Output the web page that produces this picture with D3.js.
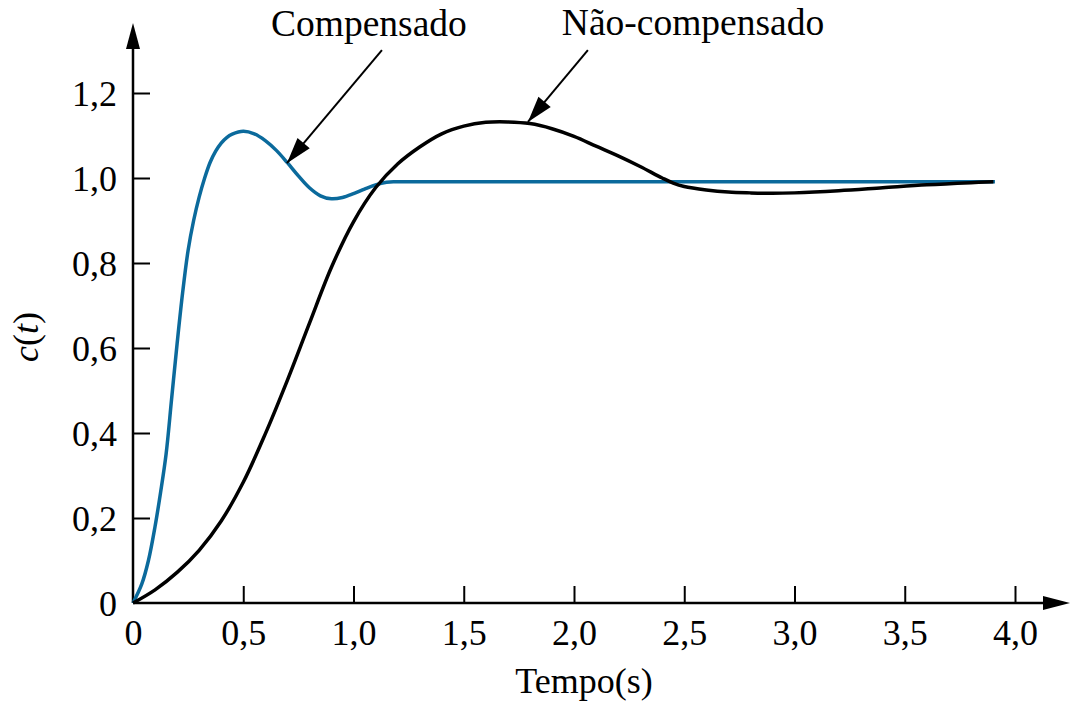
<!DOCTYPE html>
<html>
<head>
<meta charset="utf-8">
<script src="https://cdn.jsdelivr.net/npm/d3@7"></script>
<style>
    body { margin: 0; background: #fff; }
    svg text { font-family: 'Liberation Serif', 'Times New Roman', Times, serif; fill: #000; }
</style>
</head>
<body>
<div id="chart" style="width:1074px;height:702px;"></div>
<script>
// values (time in s, c(t))
const compT = [0, 0.04, 0.07, 0.1, 0.125, 0.15, 0.175, 0.2, 0.225, 0.25, 0.275, 0.3, 0.325, 0.35, 0.375, 0.4, 0.425,
    0.45, 0.5, 0.55, 0.6, 0.65, 0.7, 0.75, 0.8, 0.85, 0.9, 0.95, 1.0, 1.05, 1.1, 1.15, 1.2, 2.0, 3.0, 3.909];
const compC = [0, 0.045, 0.1, 0.18, 0.26, 0.35, 0.48, 0.61, 0.73, 0.83, 0.9, 0.955, 1.0, 1.037, 1.063, 1.082, 1.095,
    1.103, 1.11, 1.104, 1.088, 1.065, 1.036, 1.005, 0.977, 0.958, 0.951, 0.954, 0.963, 0.974, 0.984, 0.99, 0.991,
    0.991, 0.991, 0.991];

const uncompT = [0, 0.1, 0.2, 0.3, 0.4, 0.5, 0.6, 0.7, 0.8, 0.9, 1.0, 1.1, 1.2, 1.3, 1.4, 1.5, 1.6, 1.7, 1.8, 1.9,
    2.0, 2.1, 2.2, 2.3, 2.4, 2.45, 2.5, 2.6, 2.7, 2.8, 2.9, 3.0, 3.2, 3.4, 3.6, 3.8, 3.902];
const uncompC = [0, 0.031, 0.072, 0.124, 0.193, 0.284, 0.398, 0.524, 0.658, 0.79, 0.897, 0.977, 1.033, 1.073, 1.104,
    1.122, 1.131, 1.132, 1.128, 1.116, 1.098, 1.075, 1.052, 1.027, 1.0, 0.988, 0.98, 0.972, 0.967, 0.965, 0.964, 0.965,
    0.97, 0.977, 0.984, 0.989, 0.991];

const xTicks = [0, 0.5, 1.0, 1.5, 2.0, 2.5, 3.0, 3.5, 4.0];
const xTickLabels = ["0", "0,5", "1,0", "1,5", "2,0", "2,5", "3,0", "3,5", "4,0"];
const yTicks = [0, 0.2, 0.4, 0.6, 0.8, 1.0, 1.2];
const yTickLabels = ["0", "0,2", "0,4", "0,6", "0,8", "1,0", "1,2"];

// annotations: label position and arrow (from -> tip) in data units
const notes = [
    { label: "Compensado", lx: 1.07, ly: 1.334, fromT: 1.129, fromC: 1.301, tipT: 0.698, tipC: 1.035 },
    { label: "Não-compensado", lx: 2.54, ly: 1.336, fromT: 2.063, fromC: 1.301, tipT: 1.791, tipC: 1.132 }
];

const width = 1074;
const height = 702;
const margin = { top: 23, left: 133, right: 4, bottom: 99 };
const fontFamily = "'Liberation Serif', 'Times New Roman', Times, serif";

const svg = d3.select("#chart")
    .append("svg")
    .attr("width", width)
    .attr("height", height)
    .attr("font-family", fontFamily);

const xScale = d3.scaleLinear()
    .domain([0, 4])
    .range([margin.left, 1015]);

const yScale = d3.scaleLinear()
    .domain([0, 1])
    .range([height - margin.bottom, 178]);

// filled arrow head pointing from (x0,y0) towards (x1,y1)
function arrowHead(x0, y0, x1, y1, len, half) {
    const a = Math.atan2(y1 - y0, x1 - x0);
    const bx = x1 - len * Math.cos(a), by = y1 - len * Math.sin(a);
    const px = -Math.sin(a) * half, py = Math.cos(a) * half;
    return `M${x1},${y1}L${bx + px},${by + py}L${bx - px},${by - py}Z`;
}

// axes with arrows
const x0 = xScale(0), y0 = yScale(0);
const xEnd = width - margin.right, yEnd = margin.top;

svg.append("line")
    .attr("x1", x0).attr("y1", y0).attr("x2", xEnd - 20).attr("y2", y0)
    .attr("stroke", "#000").attr("stroke-width", 2.5);
svg.append("path")
    .attr("d", arrowHead(x0, y0, xEnd, y0, 27, 7))
    .attr("fill", "#000");

svg.append("line")
    .attr("x1", x0).attr("y1", y0).attr("x2", x0).attr("y2", yEnd + 20)
    .attr("stroke", "#000").attr("stroke-width", 2.5);
svg.append("path")
    .attr("d", arrowHead(x0, y0, x0, yEnd, 26, 7))
    .attr("fill", "#000");

const xAxis = svg.append("g")
    .attr("transform", `translate(0,${y0})`)
    .call(d3.axisBottom(xScale)
        .tickValues(xTicks)
        .tickFormat((d, i) => xTickLabels[i])
        .tickSizeInner(-17)
        .tickSizeOuter(0)
        .tickPadding(16));

const yAxis = svg.append("g")
    .attr("transform", `translate(${x0},0)`)
    .call(d3.axisLeft(yScale)
        .tickValues(yTicks)
        .tickFormat((d, i) => yTickLabels[i])
        .tickSizeInner(-17)
        .tickSizeOuter(0)
        .tickPadding(16));

[xAxis, yAxis].forEach(g => {
    g.attr("font-family", fontFamily).attr("font-size", 36);
    g.select(".domain").remove();
    g.selectAll(".tick line").attr("stroke", "#000").attr("stroke-width", 2);
    g.selectAll(".tick text").attr("fill", "#000");
});
// the tick at 0 sits on the other axis
xAxis.selectAll(".tick").filter(d => d === 0).select("line").remove();
yAxis.selectAll(".tick").filter(d => d === 0).select("line").remove();
yAxis.selectAll(".tick text").attr("dy", "0.36em");

// curves
const line = d3.line()
    .x(d => xScale(d[0]))
    .y(d => yScale(d[1]))
    .curve(d3.curveCatmullRom.alpha(0.5));

svg.append("path")
    .datum(d3.zip(compT, compC))
    .attr("d", line)
    .attr("fill", "none")
    .attr("stroke", "#0b6a9c")
    .attr("stroke-width", 3.5);

svg.append("path")
    .datum(d3.zip(uncompT, uncompC))
    .attr("d", line)
    .attr("fill", "none")
    .attr("stroke", "#000")
    .attr("stroke-width", 3.5);

// annotations
notes.forEach(n => {
    const fx = xScale(n.fromT), fy = yScale(n.fromC);
    const tx = xScale(n.tipT), ty = yScale(n.tipC);
    svg.append("line")
        .attr("x1", fx).attr("y1", fy).attr("x2", tx).attr("y2", ty)
        .attr("stroke", "#000").attr("stroke-width", 2);
    svg.append("path")
        .attr("d", arrowHead(fx, fy, tx, ty, 26, 8))
        .attr("fill", "#000");
    svg.append("text")
        .attr("x", xScale(n.lx))
        .attr("y", yScale(n.ly))
        .attr("text-anchor", "middle")
        .attr("font-size", 37.5)
        .text(n.label);
});

// axis labels
svg.append("text")
    .attr("x", 584)
    .attr("y", 693)
    .attr("text-anchor", "middle")
    .attr("font-size", 36)
    .text("Tempo(s)");

const yLabel = svg.append("text")
    .attr("transform", "translate(38,337) rotate(-90)")
    .attr("text-anchor", "middle")
    .attr("font-size", 36);
yLabel.append("tspan").attr("font-style", "italic").text("c");
yLabel.append("tspan").text("(");
yLabel.append("tspan").attr("font-style", "italic").text("t");
yLabel.append("tspan").text(")");
</script>
</body>
</html>
